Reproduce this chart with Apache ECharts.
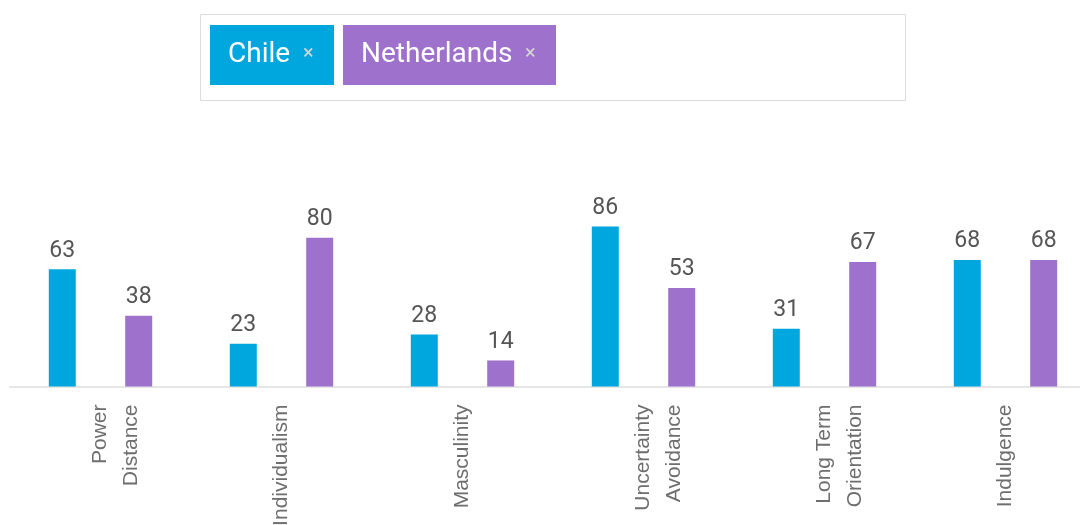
<!DOCTYPE html>
<html>
<head>
<meta charset="utf-8">
<title>Chile vs Netherlands</title>
<script src="https://cdn.jsdelivr.net/npm/echarts@6/dist/echarts.min.js"></script>
<style>
  html, body { margin: 0; padding: 0; background: #ffffff; overflow: hidden; }
  #chart { width: 1080px; height: 525px; }
</style>
</head>
<body>
<div id="chart"></div>
<script>
// Dimension names shown along the x axis
const categories = ['Power\nDistance', 'Individualism', 'Masculinity', 'Uncertainty\nAvoidance', 'Long Term\nOrientation', 'Indulgence'];
// Countries being compared
const countries = ['Chile', 'Netherlands'];
// Scores per dimension
const chileScores = [63, 23, 28, 86, 31, 68];
const netherlandsScores = [38, 80, 14, 53, 67, 68];

const colors = ['#00a7de', '#9e71cc'];
const valueFont = 'Roboto, "Noto Sans", sans-serif';

const chart = echarts.init(document.getElementById('chart'), null, { renderer: 'canvas' });

// Tag chips for the selected countries
const tagX = [210, 343];
const tagW = [124, 213];
const tags = countries.map((name, i) => ({
  type: 'group',
  left: tagX[i],
  top: 25,
  children: [
    { type: 'rect', shape: { x: 0, y: 0, width: tagW[i], height: 60 }, style: { fill: colors[i] } },
    { type: 'text', x: 18, y: 30, style: { text: name, fill: '#ffffff', font: '28px ' + valueFont, verticalAlign: 'middle' } },
    { type: 'text', x: tagW[i] - 31, y: 29, style: { text: '\u00d7', fill: '#d6d6d6', font: '20px ' + valueFont, verticalAlign: 'middle' } }
  ]
}));

const barLabel = {
  show: true,
  position: 'top',
  distance: 7,
  color: '#555555',
  fontFamily: valueFont,
  fontSize: 23
};

// First line of each axis label sits on the tick, a second line follows to its right
function axisText(v) {
  return '\u00a0\n' + v + (v.indexOf('\n') < 0 ? '\n\u00a0' : '');
}

chart.setOption({
  animation: false,
  graphic: [
    {
      type: 'rect',
      shape: { x: 200.5, y: 14.5, width: 705, height: 86 },
      style: { fill: '#ffffff', stroke: '#dcdcdc', lineWidth: 1 },
      z: 0
    }
  ].concat(tags),
  // the plot runs a little past the right edge and its labels past the bottom edge
  grid: { left: 10, top: 200.5, width: 1086, height: 186, outerBoundsMode: 'none', containLabel: false },
  xAxis: {
    type: 'category',
    data: categories,
    axisLine: { show: true, lineStyle: { color: '#e6e6e6', width: 2 } },
    axisTick: { show: false },
    axisLabel: {
      rotate: 90,
      margin: 18,
      interval: 0,
      color: '#6e6e6e',
      fontFamily: '"Liberation Sans", Arial, sans-serif',
      fontSize: 21,
      lineHeight: 31,
      formatter: axisText
    }
  },
  yAxis: {
    type: 'value',
    min: 0,
    max: 100,
    show: false,
    splitLine: { show: false }
  },
  series: [
    {
      name: countries[0],
      type: 'bar',
      data: chileScores,
      barWidth: 27,
      barGap: '183%',
      itemStyle: { color: colors[0] },
      label: barLabel
    },
    {
      name: countries[1],
      type: 'bar',
      data: netherlandsScores,
      barWidth: 27,
      barGap: '183%',
      itemStyle: { color: colors[1] },
      label: barLabel
    }
  ]
});
</script>
</body>
</html>
